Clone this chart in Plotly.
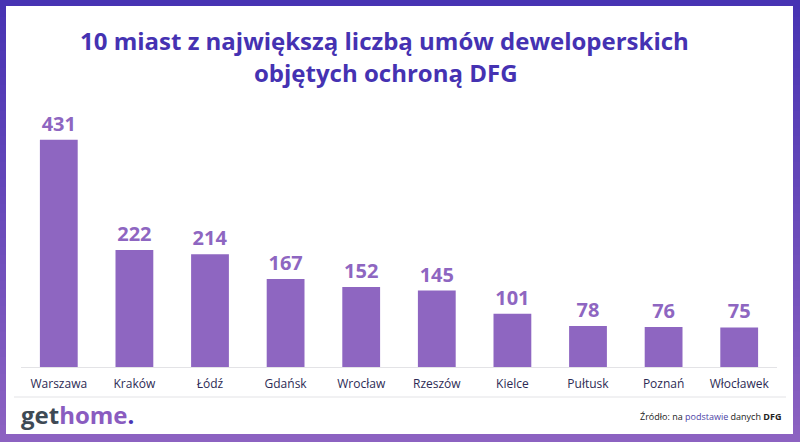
import plotly.graph_objects as go

cities = ["Warszawa", "Kraków", "Łódź", "Gdańsk", "Wrocław", "Rzeszów",
          "Kielce", "Pułtusk", "Poznań", "Włocławek"]
contracts = [431, 222, 214, 167, 152, 145, 101, 78, 76, 75]

title_line1 = "10 miast z największą liczbą umów deweloperskich"
title_line2 = "objętych ochroną DFG"
source_text = "Źródło: na <span style='color:#4B3FA5'>podstawie</span> danych <b>DFG</b>"

W, H = 800, 442
BAR_COLOR = "#8E66C1"
TITLE_COLOR = "#4532B2"
FONT = "Open Sans"


def px_x(x):
    return x / W


def px_y(y):
    return 1 - y / H


shapes = []
# gradient frame built from thin horizontal strips
top_rgb = (0x47, 0x33, 0xB3)
bot_rgb = (0x8C, 0x62, 0xC1)
n = 52
for i in range(n):
    t = i / (n - 1)
    c = tuple(round(top_rgb[k] + (bot_rgb[k] - top_rgb[k]) * t) for k in range(3))
    shapes.append(dict(type="rect", xref="paper", yref="paper", layer="below",
                       x0=0, x1=1, y0=max(0, px_y((i + 1) * H / n + 0.5)), y1=px_y(i * H / n),
                       fillcolor="rgb(%d,%d,%d)" % c, line=dict(width=0)))
# white panel
shapes.append(dict(type="rect", xref="paper", yref="paper", layer="below",
                   x0=px_x(6), x1=px_x(793), y0=px_y(434), y1=px_y(6),
                   fillcolor="white", line=dict(width=0)))
# separator line under labels
shapes.append(dict(type="line", xref="paper", yref="paper", layer="above",
                   x0=px_x(14), x1=px_x(786), y0=px_y(397), y1=px_y(397),
                   line=dict(color="#E3E3E6", width=1)))

fig = go.Figure()
fig.add_trace(go.Bar(
    x=cities, y=contracts,
    marker=dict(color=BAR_COLOR, line=dict(width=0)),
    text=[str(v) for v in contracts],
    textposition="outside",
    textfont=dict(family=FONT, size=20, color=BAR_COLOR, weight=700),
    cliponaxis=False,
    hoverinfo="skip",
))

annotations = [
    dict(text="<b>%s</b>" % title_line1, x=px_x(384), y=px_y(40), xref="paper", yref="paper",
         showarrow=False, xanchor="center", yanchor="middle",
         font=dict(family=FONT, size=24, color=TITLE_COLOR)),
    dict(text="<b>%s</b>" % title_line2, x=px_x(386), y=px_y(73), xref="paper", yref="paper",
         showarrow=False, xanchor="center", yanchor="middle",
         font=dict(family=FONT, size=24, color=TITLE_COLOR)),
    dict(text="<b><span style='color:#3E4A55'>get</span><span style='color:#8A5CC0'>home</span>"
              "<span style='color:#4A35B5'>.</span></b>",
         x=px_x(19), y=px_y(414), xref="paper", yref="paper",
         showarrow=False, xanchor="left", yanchor="middle",
         font=dict(family=FONT, size=24)),
    dict(text=source_text, x=px_x(783), y=px_y(416), xref="paper", yref="paper",
         showarrow=False, xanchor="right", yanchor="middle",
         font=dict(family=FONT, size=9, color="#222222")),
]

fig.update_layout(
    width=W, height=H,
    margin=dict(l=0, r=0, t=0, b=0),
    paper_bgcolor="white", plot_bgcolor="rgba(0,0,0,0)",
    bargap=0.5,
    showlegend=False,
    shapes=shapes,
    annotations=annotations,
    font=dict(family=FONT),
    xaxis=dict(domain=[px_x(21), px_x(777)], showgrid=False, showline=True,
               linecolor="#E3E3E6", linewidth=1, ticks="",
               ticklabelstandoff=6,
               tickfont=dict(family=FONT, size=12, color="#2D2B55"),
               fixedrange=True),
    yaxis=dict(domain=[px_y(367), px_y(114)], range=[0, 480], visible=False,
               showgrid=False, zeroline=False, fixedrange=True),
)

fig.write_html(
    "out.html",
    config={"displayModeBar": False},
    post_script="document.body.style.margin='0';document.body.style.overflow='hidden';",
)
